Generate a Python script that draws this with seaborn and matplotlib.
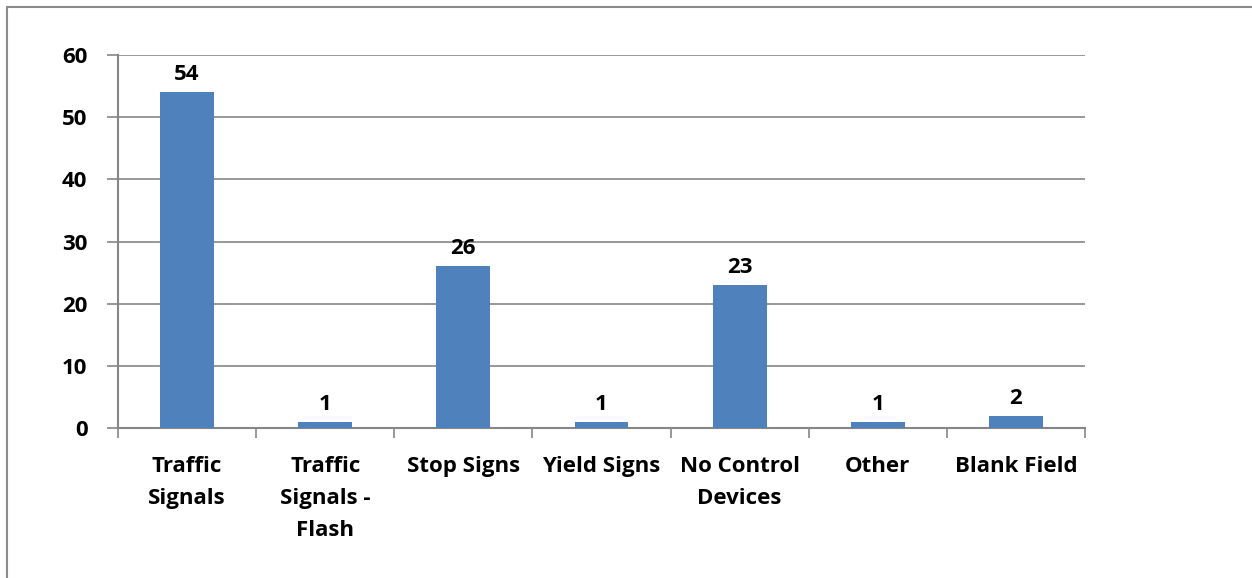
import matplotlib
matplotlib.use("Agg")
import matplotlib.pyplot as plt
from matplotlib.lines import Line2D
from matplotlib.ticker import FixedLocator
import seaborn as sns
import pandas as pd

categories = ["Traffic\nSignals", "Traffic\nSignals -\nFlash", "Stop Signs",
              "Yield Signs", "No Control\nDevices", "Other", "Blank Field"]
counts = [54, 1, 26, 1, 23, 1, 2]
y_ticks = [0, 10, 20, 30, 40, 50, 60]

df = pd.DataFrame({"category": categories, "count": counts})

sns.set_theme(style="white")
plt.rcParams["font.family"] = ["Open Sans", "DejaVu Sans"]
plt.rcParams["font.weight"] = "bold"

W, H, DPI = 1252, 578, 100
FS = 16
fig = plt.figure(figsize=(W / DPI, H / DPI), dpi=DPI)
ax = fig.add_axes([118 / W, 1 - 428 / H, (1085 - 118) / W, (428 - 55) / H])

bar_color = "#4F81BD"
grid_color = "#868686"

sns.barplot(data=df, x="category", y="count", color=bar_color, width=0.39,
            saturation=1, linewidth=0, ax=ax, zorder=3)

ax.set_ylim(0, 60)
ax.set_xlim(-0.5, len(categories) - 0.5)
ax.yaxis.set_major_locator(FixedLocator(y_ticks))
ax.grid(axis="y", color=grid_color, linewidth=1.2, zorder=0)
ax.grid(axis="x", visible=False)

for s in ["top", "right"]:
    ax.spines[s].set_visible(False)
for s in ["left", "bottom"]:
    ax.spines[s].set_color(grid_color)
    ax.spines[s].set_linewidth(1.5)

ax.tick_params(axis="y", which="major", length=8, width=1.2, color=grid_color,
               labelsize=FS, pad=14, left=True)
ax.tick_params(axis="x", which="major", length=0, labelsize=FS, pad=20)
ax.set_xticks([i - 0.5 for i in range(len(categories) + 1)], minor=True)
ax.tick_params(axis="x", which="minor", length=7, width=1.2, color=grid_color,
               bottom=True)

for lab in ax.get_yticklabels() + ax.get_xticklabels():
    lab.set_fontweight("bold")
    lab.set_color("black")
for lab in ax.get_xticklabels():
    lab.set_verticalalignment("top")
    lab.set_linespacing(1.68)

ax.set_xlabel("")
ax.set_ylabel("")

for container in ax.containers:
    ax.bar_label(container, labels=[str(v) for v in counts], padding=5,
                 fontsize=FS, fontweight="bold", color="black")

# chart frame (top and left edges)
fig.add_artist(Line2D([7 / W, 1], [1 - 7 / H, 1 - 7 / H], color="#8C8C8C", lw=1.5,
                      transform=fig.transFigure))
fig.add_artist(Line2D([7 / W, 7 / W], [0, 1 - 7 / H], color="#8C8C8C", lw=1.5,
                      transform=fig.transFigure))

fig.savefig("out.png", dpi=DPI, facecolor="white")
